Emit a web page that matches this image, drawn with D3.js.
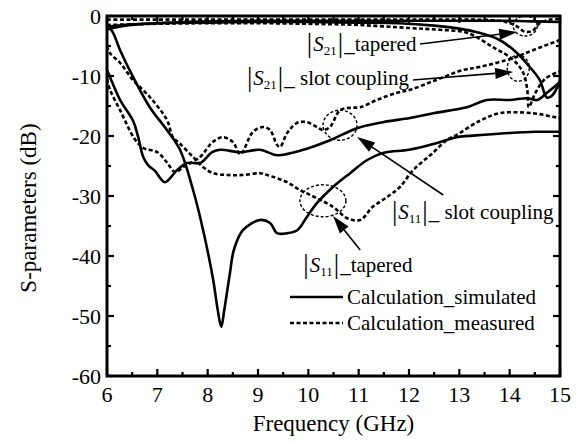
<!DOCTYPE html>
<html><head><meta charset="utf-8">
<script src="https://cdn.jsdelivr.net/npm/d3@7"></script>
<style>body{margin:0;background:#fff}svg{display:block}</style>
</head><body><svg id="c" width="581" height="442"></svg>
<script>
// ---- data (frequency in GHz, S-parameters in dB) ----
const s21TaperedSimF = [6, 6.3, 6.6, 7, 7.5, 8, 9, 10, 11, 12, 13, 14, 14.5, 15];
const s21TaperedSimV = [-2.2, -1.7, -1.4, -1.2, -1.0, -0.9, -0.8, -0.8, -0.8, -0.8, -0.8, -0.8, -0.9, -1.0];

const s21SlotSimF = [6, 6.5, 7, 8, 9, 10, 11, 11.8, 12.5, 13, 13.35, 13.8, 14.15, 14.4, 14.6, 14.74, 14.85, 15];
const s21SlotSimV = [-1.8, -1.4, -1.2, -1.1, -1.0, -1.0, -1.1, -1.2, -1.6, -2.1, -2.7, -4.0, -6.2, -8.5, -10.7, -13.6, -13.2, -10.8];

const s21TaperedMeasF = [6, 7, 8, 9, 10, 11, 12, 13, 13.8, 14.1, 14.3, 14.45, 14.6, 14.8, 15];
const s21TaperedMeasV = [-0.6, -0.6, -0.6, -0.6, -0.6, -0.6, -0.6, -0.6, -0.8, -1.5, -2.6, -2.5, -1.2, -0.6, -0.5];

const s21SlotMeasF = [6, 7, 8, 9, 10, 11, 12, 12.6, 13.15, 13.67, 14.07, 14.27, 14.35, 14.38, 14.5, 14.7, 15];
const s21SlotMeasV = [-1.5, -1.3, -1.2, -1.2, -1.3, -1.5, -2.0, -2.3, -2.8, -5.2, -7.3, -9.5, -12.3, -15.2, -13, -10.5, -9.2];

const s11TaperedSimF = [6, 6.1, 6.26, 6.52, 6.85, 7.19, 7.45, 7.71, 7.91, 8.11, 8.2, 8.27, 8.33, 8.44, 8.52, 8.7, 9.04, 9.24, 9.38, 9.58, 9.78, 9.97, 10.17, 10.49, 10.83, 11.17, 11.5, 12.0, 12.5, 12.95, 13.5, 14, 14.5, 15];
const s11TaperedSimV = [-1.8, -2.5, -5.7, -10.2, -15.2, -19, -22.3, -29, -35.7, -44, -49, -51.8, -49, -43, -39, -35.7, -34.0, -34.5, -36.2, -36.2, -35.7, -33.5, -31.2, -28.5, -26.2, -24, -22.8, -22.3, -21.3, -20.2, -19.8, -19.5, -19.3, -19.3];

const s11TaperedMeasF = [6, 6.06, 6.26, 6.52, 6.85, 7.19, 7.31, 7.45, 7.71, 7.91, 8.11, 8.4, 8.7, 9.04, 9.18, 9.58, 9.83, 10.03, 10.49, 10.77, 11.03, 11.28, 11.56, 11.82, 12.08, 12.45, 12.75, 12.95, 13.4, 13.8, 14.46, 14.86, 15];
const s11TaperedMeasV = [-5.0, -6.2, -7.8, -10.7, -13.5, -17.3, -20.2, -21.3, -23.5, -25.2, -26.2, -26.5, -26.5, -26.2, -26.5, -27.7, -29, -29.8, -31.8, -33.7, -34, -31.8, -30.2, -28.5, -25.7, -23, -20.7, -19.8, -17.5, -16.2, -16.2, -16.8, -17];

const s11SlotSimF = [6, 6.06, 6.26, 6.52, 6.62, 6.72, 6.82, 6.95, 7.15, 7.39, 7.59, 7.85, 8.09, 8.25, 8.64, 9.04, 9.38, 9.9, 10.43, 10.97, 11.48, 12.02, 12.48, 13.15, 13.55, 14.0, 14.35, 14.55, 14.74, 15];
const s11SlotSimV = [-9, -10.2, -14, -17.5, -20.2, -23.5, -24.9, -25.8, -27.7, -25.7, -24.5, -24.5, -22.7, -22.3, -22.7, -22.3, -23.2, -22.3, -20.7, -18.7, -17.7, -17, -16.2, -15.2, -14, -14, -13.7, -14, -12.8, -11];

const s11SlotMeasF = [6, 6.06, 6.26, 6.55, 6.72, 7.0, 7.2, 7.35, 7.55, 7.85, 8.1, 8.3, 8.5, 8.65, 8.9, 9.1, 9.24, 9.38, 9.44, 9.58, 9.78, 9.97, 10.17, 10.29, 10.43, 10.63, 10.83, 11.03, 11.36, 11.76, 12.02, 12.5, 13.07, 13.4, 14.07, 14.46, 15];
const s11SlotMeasV = [-10.5, -12.3, -15.7, -20.5, -22, -22.7, -24.5, -26, -25, -23.5, -21, -20.2, -21, -23, -19.3, -18.5, -19, -21.5, -21.8, -19.5, -17.8, -17.7, -18.5, -19, -18.5, -15.7, -15.3, -15.2, -14, -12.8, -12.3, -10.8, -9, -8.5, -7, -5.7, -4];

const xTicks = [6, 7, 8, 9, 10, 11, 12, 13, 14, 15];
const yTicks = [0, -10, -20, -30, -40, -50, -60];
const legendLabels = ["Calculation_simulated", "Calculation_measured"];

// annotations in data units
const ellipses = [[10.29, -30.8, 0.457, 2.67], [10.63, -18.2, 0.338, 2.5], [14.17, -8.7, 0.219, 2.17], [14.31, -1.67, 0.238, 1.67]];
const arrows = [[12.22, -4.67, 14.15, -2.67], [12.08, -10.67, 14.07, -9.33], [12.68, -29.83, 10.97, -20.17], [11.03, -39, 10.49, -33.33]];
const labels = [
  {f: 9.97, v: -5.83, sub: "21", rest: "_tapered"},
  {f: 8.78, v: -11.5, sub: "21", rest: "_ slot coupling"},
  {f: 11.66, v: -33.8, sub: "11", rest: "_ slot coupling"},
  {f: 9.9, v: -42.7, sub: "11", rest: "_tapered"}
];

// ---- drawing ----
const FONT = "'Liberation Serif', 'Times New Roman', Times, serif";
const svg = d3.select("#c");
const L = 107, R = 560, T = 16, B = 376;
const x = d3.scaleLinear().domain([6, 15]).range([L, R]);
const y = d3.scaleLinear().domain([-60, 0]).range([B, T]);
const txt = (sel) => sel.append("text").attr("font-family", FONT).attr("fill", "#000");

svg.append("clipPath").attr("id", "clip").append("rect").attr("x", L).attr("y", T).attr("width", R - L).attr("height", B - T);
const plot = svg.append("g").attr("clip-path", "url(#clip)");

const line = d3.line().x(d => x(d[0])).y(d => y(d[1])).curve(d3.curveCatmullRom.alpha(0.5));
const zip = (a, b) => a.map((v, i) => [v, b[i]]);

const series = [
  [s21TaperedSimF, s21TaperedSimV, false],
  [s21SlotSimF, s21SlotSimV, false],
  [s11TaperedSimF, s11TaperedSimV, false],
  [s11SlotSimF, s11SlotSimV, false],
  [s21TaperedMeasF, s21TaperedMeasV, true],
  [s21SlotMeasF, s21SlotMeasV, true],
  [s11TaperedMeasF, s11TaperedMeasV, true],
  [s11SlotMeasF, s11SlotMeasV, true]
];
series.forEach(([f, v, dashed]) => {
  plot.append("path").datum(zip(f, v)).attr("d", line)
    .attr("fill", "none").attr("stroke", "#000")
    .attr("stroke-width", 2.6)
    .attr("stroke-dasharray", dashed ? "4,2.5" : null);
});

ellipses.forEach(([f, v, rf, rv]) => {
  plot.append("ellipse").attr("cx", x(f)).attr("cy", y(v))
    .attr("rx", x(f + rf) - x(f)).attr("ry", y(v - rv) - y(v))
    .attr("fill", "none").attr("stroke", "#000").attr("stroke-width", 1.4).attr("stroke-dasharray", "3,2");
});

arrows.forEach(([f1, v1, f2, v2]) => {
  const x1 = x(f1), y1 = y(v1), x2 = x(f2), y2 = y(v2);
  const ang = Math.atan2(y2 - y1, x2 - x1);
  const len = 18, w = 5.5;
  const bx = x2 - len * Math.cos(ang), by = y2 - len * Math.sin(ang);
  svg.append("line").attr("x1", x1).attr("y1", y1).attr("x2", bx).attr("y2", by)
    .attr("stroke", "#000").attr("stroke-width", 1.6);
  const p = [[x2, y2], [bx + w * Math.sin(ang), by - w * Math.cos(ang)], [bx - w * Math.sin(ang), by + w * Math.cos(ang)]];
  svg.append("path").attr("d", "M" + p.map(q => q.join(",")).join("L") + "Z").attr("fill", "#000");
});

labels.forEach(d => {
  const t = txt(svg).attr("x", x(d.f)).attr("y", y(d.v)).attr("font-size", 21);
  t.append("tspan").text("|").attr("font-size", 27).attr("dy", 1);
  t.append("tspan").text("S").attr("font-style", "italic").attr("dy", -1).attr("dx", 1);
  t.append("tspan").text(d.sub).attr("font-size", 13).attr("dy", 4);
  t.append("tspan").text("|").attr("font-size", 27).attr("dy", -3).attr("dx", 1);
  t.append("tspan").text(d.rest).attr("dy", -1).attr("dx", 1);
});

const legY = [297, 323];
legendLabels.forEach((lab, i) => {
  svg.append("line").attr("x1", 290).attr("x2", 343).attr("y1", legY[i]).attr("y2", legY[i])
    .attr("stroke", "#000").attr("stroke-width", 2.6).attr("stroke-dasharray", i ? "4,2.5" : null);
  txt(svg).attr("x", 347).attr("y", legY[i] + 7).attr("font-size", 21).text(lab);
});

svg.append("rect").attr("x", L).attr("y", T).attr("width", R - L).attr("height", B - T)
  .attr("fill", "none").attr("stroke", "#000").attr("stroke-width", 3);
const tk = svg.append("g").attr("stroke", "#000").attr("stroke-width", 2.2);
d3.range(6, 15.01, 0.5).forEach(f => {
  const major = Math.abs(f - Math.round(f)) < 1e-6, len = major ? 7 : 4;
  tk.append("line").attr("x1", x(f)).attr("x2", x(f)).attr("y1", B).attr("y2", B - len);
  tk.append("line").attr("x1", x(f)).attr("x2", x(f)).attr("y1", T).attr("y2", T + len);
});
d3.range(-60, 0.01, 5).forEach(v => {
  const major = v % 10 === 0, len = major ? 7 : 4;
  tk.append("line").attr("y1", y(v)).attr("y2", y(v)).attr("x1", L).attr("x2", L + len);
  tk.append("line").attr("y1", y(v)).attr("y2", y(v)).attr("x1", R).attr("x2", R - len);
});

xTicks.forEach(f => txt(svg).attr("x", x(f)).attr("y", 402).attr("text-anchor", "middle").attr("font-size", 22).text(f));
yTicks.forEach(v => txt(svg).attr("x", 101).attr("y", y(v) + 7.5).attr("text-anchor", "end").attr("font-size", 22).text(v));

txt(svg).attr("x", (L + R) / 2).attr("y", 431).attr("text-anchor", "middle").attr("font-size", 23).text("Frequency (GHz)");
txt(svg).attr("transform", "translate(36,208) rotate(-90)").attr("text-anchor", "middle").attr("font-size", 23).text("S-parameters (dB)");
</script></body></html>
